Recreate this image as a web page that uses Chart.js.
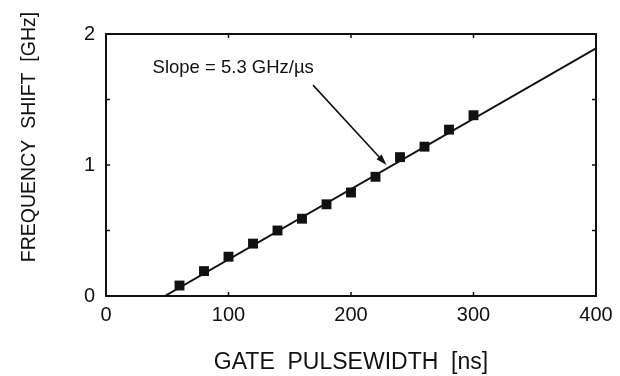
<!DOCTYPE html>
<html>
<head>
<meta charset="utf-8">
<style>
  html, body { margin: 0; padding: 0; background: #fff; }
  #wrap { width: 620px; height: 376px; }
</style>
<script src="https://cdn.jsdelivr.net/npm/chart.js@4/dist/chart.umd.min.js"></script>
</head>
<body>
<div id="wrap"><canvas id="chart" width="620" height="376"></canvas></div>
<script>
// measured points: gate pulsewidth (ns) vs frequency shift (GHz)
var pulseWidths = [60, 80, 100, 120, 140, 160, 180, 200, 220, 240, 260, 280, 300];
var freqShifts = [0.08, 0.19, 0.30, 0.40, 0.50, 0.59, 0.70, 0.79, 0.91, 1.06, 1.14, 1.27, 1.38];

// fitted line end points
var fitX = [48, 400];
var fitY = [0, 1.89];

// annotation
var slopeLabel = 'Slope = 5.3 GHz/\u00b5s';
var labelAt = [38, 1.74];
var arrowFrom = [169, 1.61];
var arrowTo = [229, 1.0];

var xTitle = 'GATE  PULSEWIDTH  [ns]';
var yTitle = 'FREQUENCY  SHIFT  [GHz]';

var FONT = "'Liberation Sans', Arial, Helvetica, sans-serif";
var INK = '#111';

var points = pulseWidths.map(function(x, i) { return { x: x, y: freqShifts[i] }; });
var fit = fitX.map(function(x, i) { return { x: x, y: fitY[i] }; });

// box, inward ticks, arrow, label and the y title (sits above centre in the original)
var frame = {
  id: 'frame',
  afterDatasetsDraw: function(chart) {
    var ctx = chart.ctx;
    var a = chart.chartArea;
    var xs = chart.scales.x, ys = chart.scales.y;
    ctx.save();
    ctx.strokeStyle = INK;
    ctx.lineWidth = 2;
    ctx.strokeRect(a.left, a.top, a.right - a.left, a.bottom - a.top);

    ctx.lineWidth = 1.5;
    ctx.beginPath();
    xs.ticks.forEach(function(t) {
      var px = xs.getPixelForValue(t.value);
      if (px <= a.left + 1 || px >= a.right - 1) return;
      ctx.moveTo(px, a.bottom); ctx.lineTo(px, a.bottom - 4);
      ctx.moveTo(px, a.top); ctx.lineTo(px, a.top + 4);
    });
    ys.ticks.forEach(function(t) {
      var py = ys.getPixelForValue(t.value);
      if (py <= a.top + 1 || py >= a.bottom - 1) return;
      ctx.moveTo(a.left, py); ctx.lineTo(a.left + 4, py);
      ctx.moveTo(a.right, py); ctx.lineTo(a.right - 4, py);
    });
    ctx.stroke();

    // arrow
    var x0 = xs.getPixelForValue(arrowFrom[0]), y0 = ys.getPixelForValue(arrowFrom[1]);
    var x1 = xs.getPixelForValue(arrowTo[0]), y1 = ys.getPixelForValue(arrowTo[1]);
    var ang = Math.atan2(y1 - y0, x1 - x0);
    var hl = 11, hw = 3.5;
    ctx.lineWidth = 1.6;
    ctx.beginPath();
    ctx.moveTo(x0, y0);
    ctx.lineTo(x1 - Math.cos(ang) * hl * 0.8, y1 - Math.sin(ang) * hl * 0.8);
    ctx.stroke();
    ctx.fillStyle = INK;
    ctx.beginPath();
    ctx.moveTo(x1, y1);
    ctx.lineTo(x1 - Math.cos(ang) * hl - Math.sin(ang) * hw, y1 - Math.sin(ang) * hl + Math.cos(ang) * hw);
    ctx.lineTo(x1 - Math.cos(ang) * hl + Math.sin(ang) * hw, y1 - Math.sin(ang) * hl - Math.cos(ang) * hw);
    ctx.closePath();
    ctx.fill();

    ctx.font = '18.5px ' + FONT;
    ctx.textAlign = 'left';
    ctx.textBaseline = 'middle';
    ctx.fillText(slopeLabel, xs.getPixelForValue(labelAt[0]), ys.getPixelForValue(labelAt[1]));

    ctx.translate(30, 137);
    ctx.rotate(-Math.PI / 2);
    ctx.font = '19.5px ' + FONT;
    ctx.textAlign = 'center';
    ctx.fillText(yTitle, 0, 0);
    ctx.restore();
  }
};

new Chart(document.getElementById('chart').getContext('2d'), {
  type: 'scatter',
  data: {
    datasets: [
      {
        label: 'fit',
        data: fit,
        showLine: true,
        borderColor: INK,
        borderWidth: 2,
        pointRadius: 0,
        fill: false
      },
      {
        label: 'measured',
        data: points,
        pointStyle: 'rect',
        pointRadius: 7,
        backgroundColor: INK,
        borderColor: INK,
        borderWidth: 0
      }
    ]
  },
  options: {
    responsive: false,
    animation: false,
    devicePixelRatio: 1,
    layout: { padding: { left: 0, right: 24, top: 34, bottom: 0 } },
    plugins: {
      legend: { display: false },
      tooltip: { enabled: false }
    },
    scales: {
      x: {
        type: 'linear',
        min: 0,
        max: 400,
        grid: { display: false, drawTicks: false },
        border: { display: false },
        ticks: {
          stepSize: 100,
          padding: 7,
          color: INK,
          maxRotation: 0,
          font: { family: FONT, size: 20 }
        },
        title: {
          display: true,
          text: xTitle,
          color: INK,
          font: { family: FONT, size: 23, lineHeight: 1.2 },
          padding: { top: 0, bottom: 0 }
        },
        afterFit: function(scale) { scale.height = 80; }
      },
      y: {
        type: 'linear',
        min: 0,
        max: 2,
        grid: { display: false, drawTicks: false },
        border: { display: false },
        ticks: {
          stepSize: 0.5,
          padding: 11,
          color: INK,
          font: { family: FONT, size: 20 },
          callback: function(v) { return Number.isInteger(v) ? String(v) : ''; }
        },
        title: { display: false },
        afterFit: function(scale) { scale.width = 106; }
      }
    }
  },
  plugins: [frame]
});
</script>
</body>
</html>
